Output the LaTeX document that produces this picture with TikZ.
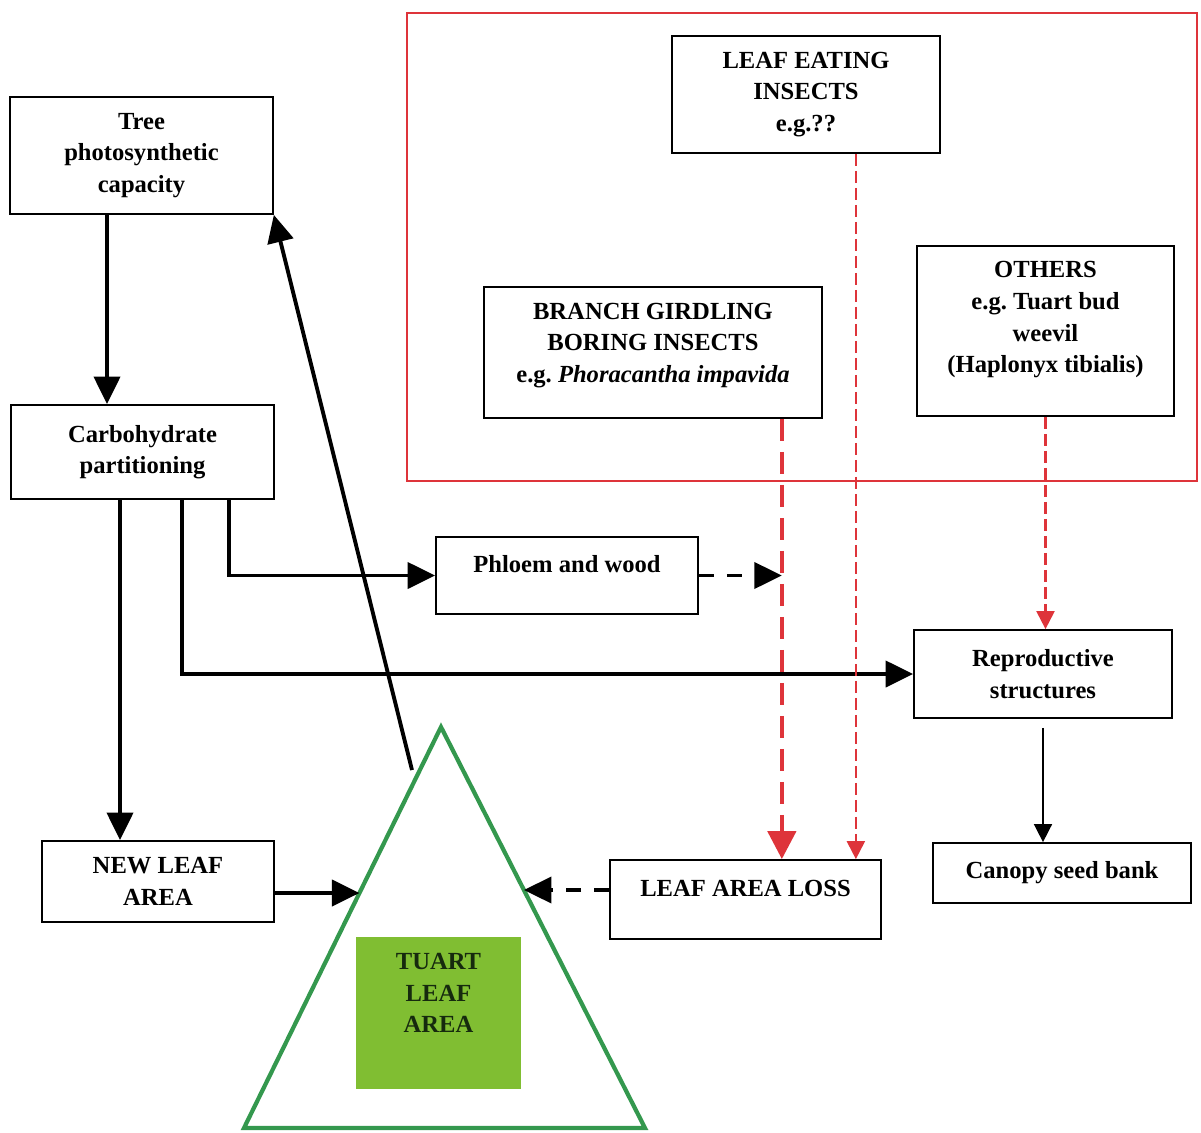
\documentclass[tikz,border=0pt]{standalone}
\usepackage{xcolor}
\usepackage{fontspec}
\setmainfont{Liberation Serif}
\usetikzlibrary{arrows.meta,calc}
\frenchspacing

\definecolor{insectred}{RGB}{222,52,58}
\definecolor{leafgreen}{RGB}{52,152,78}
\definecolor{areagreen}{RGB}{128,190,50}
\definecolor{areatext}{RGB}{22,42,14}

\begin{document}
\begin{tikzpicture}[
  x=0.02cm, y=-0.02cm,
  every node/.style={font=\bfseries\fontsize{14}{18}\selectfont, align=center},
  box/.style={draw, line width=1pt, inner sep=2pt},
  thickarrow/.style={line width=2.2pt, -{Triangle[length=0.55cm,width=0.52cm]}},
  thinarrow/.style={line width=0.9pt, -{Triangle[length=0.36cm,width=0.36cm]}},
  blackdash/.style={thickarrow, dash pattern=on 0.3cm off 0.26cm},
  redthick/.style={draw=insectred, line width=2.6pt, dash pattern=on 0.44cm off 0.22cm, -{Triangle[length=0.56cm,width=0.56cm]}},
  redthin/.style={draw=insectred, line width=1.2pt, dash pattern=on 0.24cm off 0.1cm, -{Triangle[length=0.36cm,width=0.36cm]}}
]
\useasboundingbox (0,0) rectangle (1201,1133);
\draw[insectred, line width=0.9pt] (407,13) rectangle (1197,481);

\node[box, minimum width=5.26cm, minimum height=2.34cm] (tree) at (141.5,155.5) {Tree\\photosynthetic\\capacity};
\node[box, minimum width=5.26cm, minimum height=1.88cm] (carb) at (142.5,452) {Carbohydrate\\partitioning};
\node[box, minimum width=4.64cm, minimum height=1.62cm] (newleaf) at (158,881.5) {NEW LEAF\\AREA};
\node[box, minimum width=5.24cm, minimum height=1.54cm, text depth=0.45cm] (phloem) at (567,575.5) {Phloem and wood};
\node[box, minimum width=5.42cm, minimum height=1.58cm, text depth=0.45cm] (loss) at (745.5,899.5) {LEAF AREA LOSS};
\node[box, minimum width=5.16cm, minimum height=1.76cm] (repro) at (1043,674) {Reproductive\\structures};
\node[box, minimum width=5.16cm, minimum height=1.2cm] (seed) at (1062,873) {Canopy seed bank};
\node[box, minimum width=5.36cm, minimum height=2.34cm] (leafeat) at (806,94.5) {LEAF EATING\\INSECTS\\e.g.??};
\node[box, minimum width=6.76cm, minimum height=2.62cm, text depth=0.4cm] (branch) at (653,352.5) {BRANCH GIRDLING\\BORING INSECTS\\e.g. \textit{Phoracantha impavida}};
\node[box, minimum width=5.14cm, minimum height=3.4cm, text depth=0.55cm] (others) at (1045.5,331) {OTHERS\\e.g. Tuart bud\\weevil\\(Haplonyx tibialis)};

\coordinate (apex) at (441,727);
\coordinate (bl) at (244,1128);
\coordinate (br) at (645,1128);
\draw[leafgreen, line width=2.4pt] (apex) -- (bl) -- (br) -- cycle;
\node[fill=areagreen, text=areatext, minimum width=3.3cm, minimum height=3.04cm, text depth=0.8cm] (area) at (438.5,1013) {TUART\\LEAF\\AREA};

\coordinate (treeout) at ([xshift=-0.69cm]tree.south);
\coordinate (toleaf) at ([xshift=-0.45cm]carb.south);
\coordinate (torepro) at ([xshift=0.79cm]carb.south);
\coordinate (tophloem) at ([xshift=1.73cm]carb.south);
\coordinate (crown) at (412,770);
\coordinate (leafin) at ([yshift=-0.23cm]newleaf.east);
\coordinate (lossout) at ([yshift=0.19cm]loss.west);
\coordinate (tl) at ($(apex)!0.414!(bl)$);
\coordinate (tr) at ($(apex)!0.4065!(br)$);
\coordinate (girdle) at ([xshift=-0.82cm]branch.south east);
\coordinate (eating) at ([xshift=-1.7cm]leafeat.south east);
\coordinate (seedout) at ([yshift=-0.18cm]repro.south);

\draw[thickarrow] (treeout) -- (treeout |- carb.north);
\draw[thickarrow] (toleaf) -- (toleaf |- newleaf.north);
\draw[thickarrow] (tophloem) |- (phloem.west);
\draw[thickarrow] (torepro) |- (repro.west);
\draw[thickarrow] (crown) -- (tree.south east);
\draw[thickarrow] (leafin) -- (leafin -| tl);
\draw[blackdash] (lossout) -- (lossout -| tr);
\draw[blackdash] (phloem.east) -- (phloem.east -| girdle);
\draw[thinarrow] (seedout) -- (seedout |- seed.north);

\draw[redthick] (girdle) -- (girdle |- loss.north);
\draw[redthin] (eating) -- (eating |- loss.north);
\draw[redthin] (others.south) -- (others.south |- repro.north);
\end{tikzpicture}
\end{document}
